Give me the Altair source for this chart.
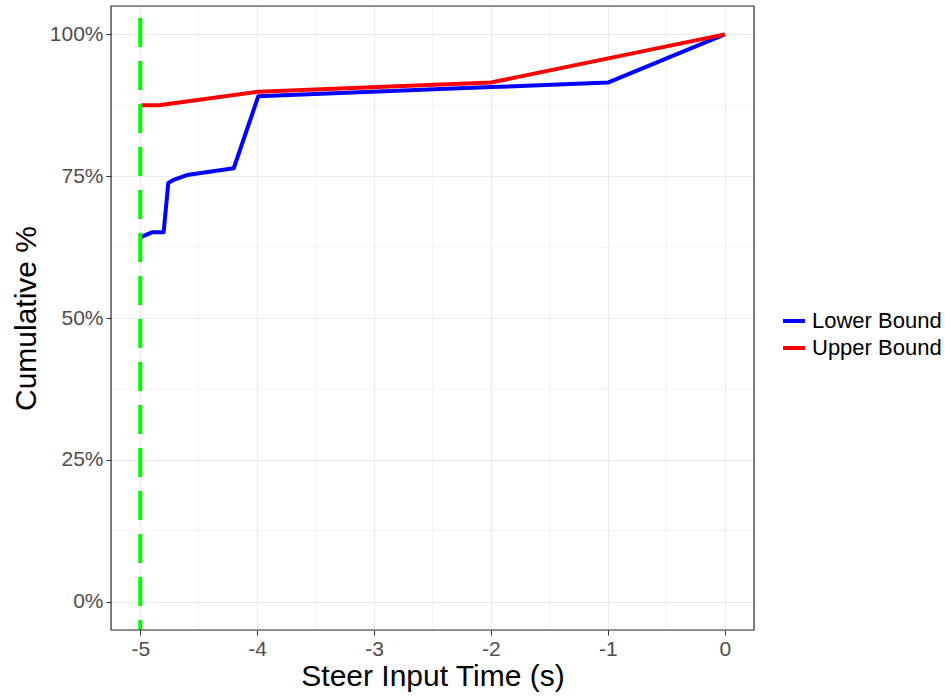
import altair as alt
import pandas as pd

# Lower bound series
lower_x = [-4.99, -4.90, -4.80, -4.76, -4.72, -4.60, -4.20, -3.99, -2.0, -1.0, 0.0]
lower_y = [0.643, 0.651, 0.651, 0.738, 0.743, 0.752, 0.764, 0.891, 0.907, 0.915, 1.0]
# Upper bound series
upper_x = [-4.99, -4.84, -3.99, -2.0, 0.0]
upper_y = [0.875, 0.875, 0.899, 0.915, 1.0]

series_names = ["Lower Bound", "Upper Bound"]
series_colors = ["#0000FF", "#FF0000"]

x_ticks = [-5, -4, -3, -2, -1, 0]
y_ticks = [0, 0.25, 0.5, 0.75, 1.0]
x_minor = [-4.5, -3.5, -2.5, -1.5, -0.5]
y_minor = [0.125, 0.375, 0.625, 0.875]
vline_x = [-5]

rows = []
for i, (x, y) in enumerate(zip(lower_x, lower_y)):
    rows.append({"t": x, "p": y, "series": series_names[0], "o": i})
for i, (x, y) in enumerate(zip(upper_x, upper_y)):
    rows.append({"t": x, "p": y, "series": series_names[1], "o": i})
df = pd.DataFrame(rows)

W, H = 643, 624
xs = alt.Scale(domain=[-5.25, 0.25], nice=False, zero=False)
ys = alt.Scale(domain=[-0.05, 1.05], nice=False, zero=False)

grid_col = "#EBEBEB"

minor_x = alt.Chart(pd.DataFrame({"t": x_minor})).mark_rule(
    color=grid_col, strokeWidth=0.6
).encode(x=alt.X("t:Q", scale=xs))
minor_y = alt.Chart(pd.DataFrame({"p": y_minor})).mark_rule(
    color=grid_col, strokeWidth=0.6
).encode(y=alt.Y("p:Q", scale=ys))

lines = alt.Chart(df).mark_line(strokeWidth=4, strokeJoin="round").encode(
    x=alt.X(
        "t:Q",
        scale=xs,
        title="Steer Input Time (s)",
        axis=alt.Axis(
            values=x_ticks,
            labelExpr="datum.value < 0 ? '-' + format(abs(datum.value), 'd') : format(datum.value, 'd')",
            grid=True,
            gridColor=grid_col,
            gridWidth=1.1,
            domain=False,
            tickColor="#333333",
            tickSize=5,
            labelColor="#4D4D4D",
            labelFontSize=21,
            labelPadding=3,
            titleFontSize=30,
            titleFontWeight="normal",
            titleColor="#000000",
            titlePadding=2,
        ),
    ),
    y=alt.Y(
        "p:Q",
        scale=ys,
        title="Cumulative %",
        axis=alt.Axis(
            values=y_ticks,
            labelExpr="round(datum.value*100) + '%'",
            grid=True,
            gridColor=grid_col,
            gridWidth=1.1,
            domain=False,
            tickColor="#333333",
            tickSize=5,
            labelColor="#4D4D4D",
            labelFontSize=21,
            labelPadding=3,
            titleFontSize=30,
            titleFontWeight="normal",
            titleColor="#000000",
            titlePadding=8,
        ),
    ),
    color=alt.Color(
        "series:N",
        scale=alt.Scale(domain=series_names, range=series_colors),
        legend=alt.Legend(
            title=None,
            orient="none",
            legendX=670,
            legendY=302,
            symbolType="stroke",
            symbolStrokeWidth=4,
            symbolSize=480,
            labelFontSize=22,
            labelColor="#000000",
            rowPadding=3,
            labelOffset=5,
        ),
    ),
    order="o:Q",
)

vline = alt.Chart(pd.DataFrame({"t": vline_x})).mark_rule(
    color="#00FF00", strokeWidth=4, strokeDash=[29, 14], strokeDashOffset=31
).encode(x=alt.X("t:Q", scale=xs))

border = alt.Chart(pd.DataFrame({"a": [0]})).mark_rect(
    fill=None, fillOpacity=0, stroke="#333333", strokeWidth=1.2
).encode(
    x=alt.value(0), x2=alt.value(W), y=alt.value(0), y2=alt.value(H)
)

chart = alt.layer(minor_x, minor_y, lines, vline, border).properties(
    width=W,
    height=H,
    autosize=alt.AutoSizeParams(type="none"),
    padding={"left": 111, "top": 6, "right": 196, "bottom": 66},
).configure_view(
    stroke=None
).configure(font="Liberation Sans", background="white")

chart.save("out.html", embed_options={"renderer": "svg", "actions": False})
